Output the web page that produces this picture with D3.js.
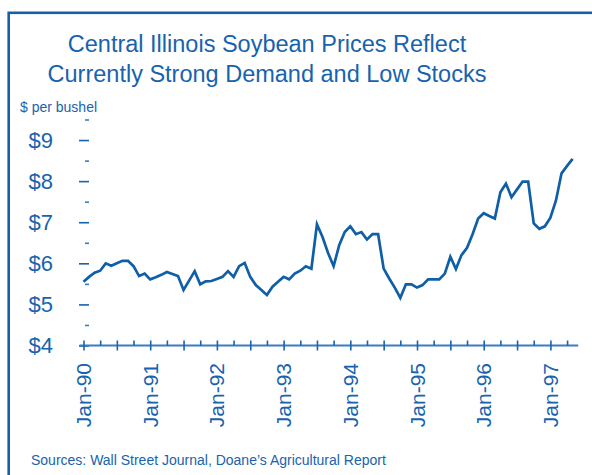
<!DOCTYPE html>
<html>
<head>
<meta charset="utf-8">
<script src="https://cdn.jsdelivr.net/npm/d3@7"></script>
<style>
  html, body { margin: 0; padding: 0; background: #ffffff; }
  svg { display: block; }
  text { font-family: "Liberation Sans", Arial, Helvetica, sans-serif; }
</style>
</head>
<body>
<svg id="chart" width="592" height="475"></svg>
<script>
// ---- data (monthly, Jan 1990 onward) ----
const titleLines = ["Central Illinois Soybean Prices Reflect", "Currently Strong Demand and Low Stocks"];
const unitLabel = "$ per bushel";
const sourceText = "Sources: Wall Street Journal, Doane\u2019s Agricultural Report";
const startYear = 1990;
const prices = [
  5.55, 5.67, 5.77, 5.82, 6.00, 5.94, 6.00, 6.06, 6.06, 5.93, 5.69, 5.75,   // 1990
  5.61, 5.66, 5.72, 5.79, 5.74, 5.69, 5.35, 5.58, 5.81, 5.49, 5.56, 5.57,   // 1991
  5.62, 5.67, 5.81, 5.67, 5.93, 6.01, 5.67, 5.47, 5.35, 5.23, 5.43, 5.55,   // 1992
  5.67, 5.61, 5.75, 5.82, 5.93, 5.87, 6.95, 6.64, 6.25, 5.93, 6.44, 6.76,   // 1993
  6.90, 6.71, 6.76, 6.58, 6.71, 6.71, 5.87, 5.63, 5.41, 5.16, 5.49, 5.49,   // 1994
  5.41, 5.47, 5.61, 5.61, 5.61, 5.75, 6.16, 5.86, 6.20, 6.38, 6.71, 7.09,   // 1995
  7.22, 7.15, 7.09, 7.73, 7.94, 7.61, 7.80, 7.99, 7.99, 6.97, 6.84, 6.90,   // 1996
  7.11, 7.53, 8.19, 8.37, 8.54                                              // 1997
];
const yTickValues = [4, 5, 6, 7, 8, 9];
const yMinorTickValues = [4.5, 5.5, 6.5, 7.5, 8.5, 9.5];
const xLabelYears = [1990, 1991, 1992, 1993, 1994, 1995, 1996, 1997];

// ---- layout ----
const blue = "#1763ad";
const lineBlue = "#0f5ea8";
const svg = d3.select("#chart");

const monthIndex = (y, m) => (y - startYear) * 12 + m;
const x = d3.scaleLinear().domain([0, 89]).range([83.5, 578.2]);
const y = d3.scaleLinear().domain([4, 9.5]).range([345.5, 119.5]);

// frame (extends past the right and bottom edges)
svg.append("rect")
  .attr("x", 8.7).attr("y", 12.8).attr("width", 800).attr("height", 800)
  .attr("fill", "none").attr("stroke", "#1560a8").attr("stroke-width", 2.6);

// title
svg.append("text")
  .attr("x", 267).attr("y", 52)
  .attr("text-anchor", "middle")
  .attr("font-size", 23.5).attr("fill", blue)
  .selectAll("tspan").data(titleLines).join("tspan")
  .attr("x", 267).attr("dy", (d, i) => i === 0 ? 0 : 30)
  .text(d => d);

svg.append("text")
  .attr("x", 20).attr("y", 112)
  .attr("font-size", 14).attr("fill", blue)
  .text(unitLabel);

// y axis: major ticks crossing, minor ticks inside; no axis line
const yAxisX = 84;
const yMajor = d3.axisLeft(y).tickValues(yTickValues).tickSize(0).tickPadding(0)
  .tickFormat(d => "$" + d);
const gy = svg.append("g").attr("transform", `translate(${yAxisX},0)`).call(yMajor);
gy.select(".domain").remove();
gy.selectAll("text")
  .attr("x", -31).attr("font-size", 22).attr("fill", blue)
  .attr("font-family", "Liberation Sans, Arial, sans-serif");
gy.selectAll(".tick line")
  .attr("x1", -5).attr("x2", 5).attr("stroke", blue).attr("stroke-width", 1.6);

const gyMinor = svg.append("g").attr("transform", `translate(${yAxisX},0)`)
  .call(d3.axisRight(y).tickValues(yMinorTickValues).tickSize(0).tickFormat(""));
gyMinor.select(".domain").remove();
gyMinor.selectAll(".tick line")
  .attr("x1", 1).attr("x2", 5).attr("stroke", "#3a7cc0").attr("stroke-width", 1.6);

// x axis
const axisY = 345.5;
const quarterTicks = d3.range(0, 89, 3);
const gx = svg.append("g").attr("transform", `translate(0,${axisY})`)
  .call(d3.axisBottom(x).tickValues(quarterTicks).tickSize(0).tickFormat(""));
gx.select(".domain")
  .attr("d", `M${x(0) - 4},0H${x(89)}`)
  .attr("stroke", "#3a7cc0").attr("stroke-width", 1.8);
gx.selectAll(".tick line")
  .attr("y1", -5)
  .attr("y2", d => d % 6 === 0 ? 5 : 0)
  .attr("stroke", blue).attr("stroke-width", 1.6);

// year labels, rotated
const gl = svg.append("g");
gl.selectAll("text").data(xLabelYears).join("text")
  .attr("transform", d => `translate(${x(monthIndex(d, 0))},363) rotate(-90)`)
  .attr("text-anchor", "end")
  .attr("dy", "0.36em")
  .attr("font-size", 21).attr("fill", blue)
  .text(d => "Jan-" + String(d).slice(2));

// price line
const line = d3.line()
  .x((d, i) => x(i))
  .y(d => y(d));
svg.append("path")
  .datum(prices)
  .attr("d", line)
  .attr("fill", "none")
  .attr("stroke", lineBlue)
  .attr("stroke-width", 2.7)
  .attr("stroke-linejoin", "miter");

// source
svg.append("text")
  .attr("x", 31).attr("y", 465)
  .attr("font-size", 14).attr("fill", blue)
  .text(sourceText);
</script>
</body>
</html>
